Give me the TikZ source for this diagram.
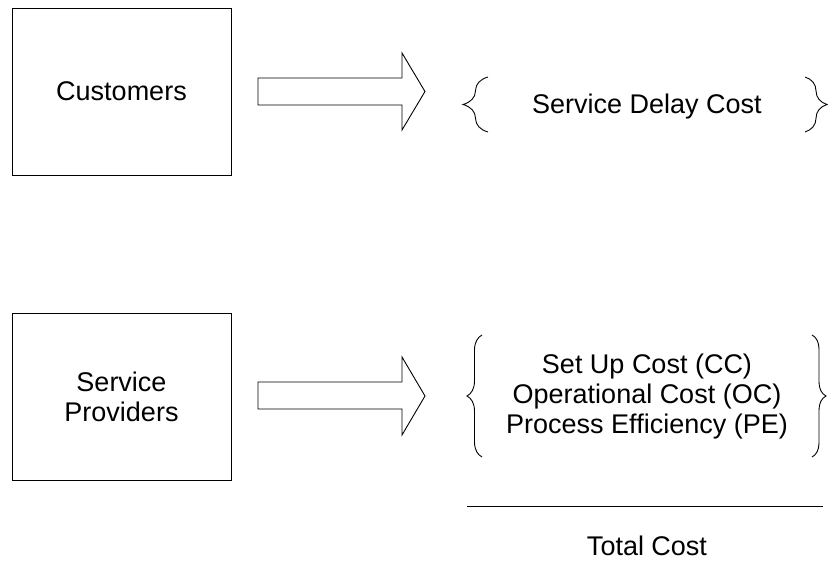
\documentclass[tikz,border=0pt]{standalone}
\usepackage{fontspec}
\setmainfont{Liberation Sans}
\usetikzlibrary{decorations.pathreplacing}
\tikzset{
  actor/.style={draw, line width=0.9pt, minimum width=219pt, minimum height=167pt, inner sep=0pt},
  label/.style={font=\fontsize{27}{30}\selectfont, inner sep=0pt, align=center},
  blockarrow/.style={draw, line width=0.9pt, line join=miter},
  curly/.style={draw, line width=0.9pt, decorate}
}
\begin{document}
\begin{tikzpicture}[x=1pt, y=-1pt]
  \useasboundingbox (0,0) rectangle (828,568);

  % left column: the two parties
  \node[actor] (cust) at (121.5,91.5) {};
  \node[label, anchor=base] (custtxt) at (121.5,100) {Customers};
  \node[actor] (prov) at (121.5,396.5) {};
  % base anchor of a multi-line node sits on its last line
  \node[label, anchor=base] (provtxt) at (121.5,421) {Service\\Providers};

  % block arrows from each party to its costs
  \draw[blockarrow] (258,78) -- (402,78) -- (402,53) -- (425,91.5)
        -- (402,130) -- (402,105) -- (258,105) -- cycle;
  \draw[blockarrow] (258,382) -- (402,382) -- (402,357) -- (425,396)
        -- (402,435) -- (402,409) -- (258,409) -- cycle;

  % cost groups in braces
  \node[label, anchor=base] (delay) at (647,113) {Service Delay Cost};
  \draw[curly, decoration={brace, amplitude=25pt}] (488,132) -- (488,77);
  \draw[curly, decoration={brace, amplitude=22pt}] (805,77) -- (805,132);

  \node[label, anchor=base] (costs) at (647,433) {Set Up Cost (CC)\\Operational Cost (OC)\\Process Efficiency (PE)};
  \draw[curly, decoration={brace, amplitude=15pt}] (482,457) -- (482,335);
  \draw[curly, decoration={brace, amplitude=14pt}] (812,335) -- (812,457);

  % sum line and total
  \coordinate (sumL) at (467,506);
  \coordinate (sumR) at (823,506);
  \draw[line width=0.9pt] (sumL) -- (sumR);
  \node[label, anchor=base] (total) at (647,555) {Total Cost};
\end{tikzpicture}
\end{document}
